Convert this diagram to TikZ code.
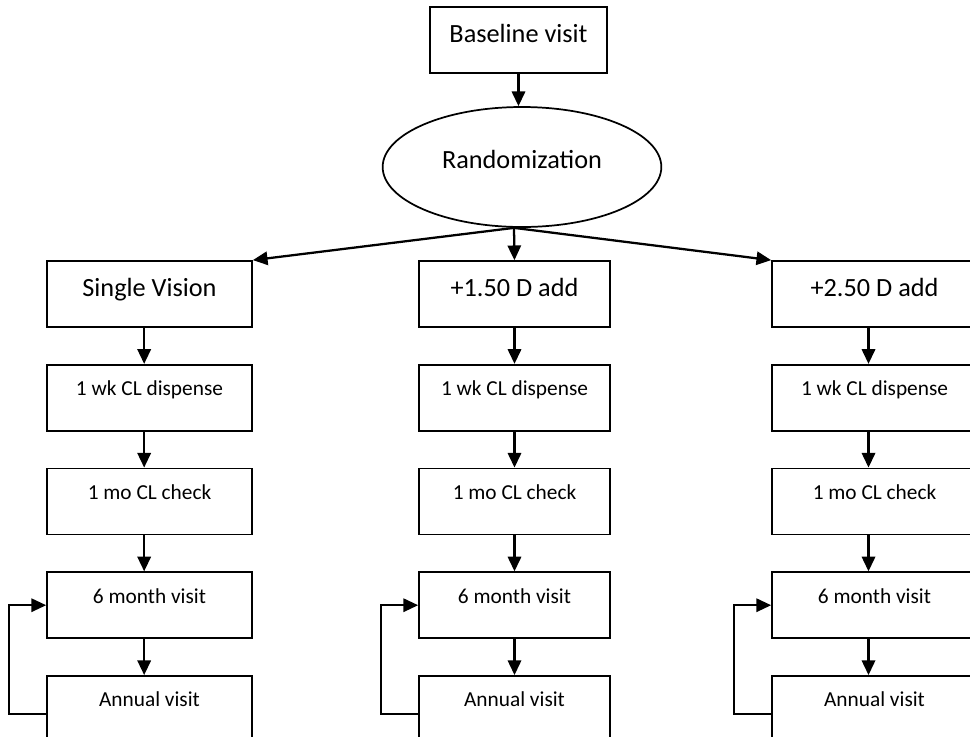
\documentclass[tikz,border=0pt]{standalone}
\usepackage{fontspec}
\setmainfont{Carlito}
\usetikzlibrary{positioning, shapes.geometric, arrows.meta}
\tikzset{
>={Triangle[length=11pt,width=10pt]}, % solid heads as in the reference
node distance=27pt, % gap between two boxes of a column
arm/.style={->, line width=1.7pt},
bigbox/.style={draw, line width=1.3pt, font=\fontsize{19.7}{23}\selectfont, inner ysep=0pt, text height=26.6pt, text depth=22.9pt, minimum width=153.75pt},
smallbox/.style={draw, line width=1.3pt, font=\fontsize{16}{19}\selectfont, inner ysep=0pt, text height=23.2pt, text depth=26.3pt, minimum width=#1},
}

\begin{document}
\begin{tikzpicture}[x=0.75pt, y=-0.75pt]
\useasboundingbox (0,0) rectangle (970,736);
\node[bigbox, minimum width=132.75pt] (base) at (518.5,40) {Baseline visit};
\node[ellipse, draw, line width=1.3pt, minimum width=209pt, minimum height=90pt, inner sep=0pt,
      font=\fontsize{19.7}{23}\selectfont, text height=14pt, text depth=11.4pt] (rand) at (522,167) {Randomization};
\node[bigbox] (sv) at (149.5,294) {Single Vision};
\node[bigbox, minimum width=143.25pt] (add15) at (514.5,294) {+1.50 D add};
\node[bigbox] (add25) at (874.5,294) {+2.50 D add};

\draw[arm] (base.south) -- (base.south |- rand.north);
\draw[arm] ([xshift=-6pt]rand.south) -- (sv.north east);
\draw[arm] ([xshift=-6pt]rand.south) -- (add15.north);
\draw[arm] ([xshift=-6pt]rand.south) -- (add25.north west);

% one column of visits under each arm
\foreach \col/\w/\dx in {sv/153.75pt/-4pt, add15/143.25pt/0pt, add25/153.75pt/-4.5pt} {
  \node[smallbox=\w, below=of \col] (\col-wk) {1 wk CL dispense};
  \node[smallbox=\w, below=of \col-wk] (\col-mo) {1 mo CL check};
  \node[smallbox=\w, below=of \col-mo] (\col-six) {6 month visit};
  \node[smallbox=\w, below=of \col-six] (\col-ann) {Annual visit};
  \draw[arm] ([xshift=\dx]\col.south) -- ([xshift=\dx]\col-wk.north);
  \draw[arm] ([xshift=\dx]\col-wk.south) -- ([xshift=\dx]\col-mo.north);
  \draw[arm] ([xshift=\dx]\col-mo.south) -- ([xshift=\dx]\col-six.north);
  \draw[arm] ([xshift=\dx]\col-six.south) -- ([xshift=\dx]\col-ann.north);
  \draw[arm, line width=1.4pt] ([yshift=-3.75pt]\col-ann.west) -- ++(-37,0) |- (\col-six.west);
}
\end{tikzpicture}
\end{document}
